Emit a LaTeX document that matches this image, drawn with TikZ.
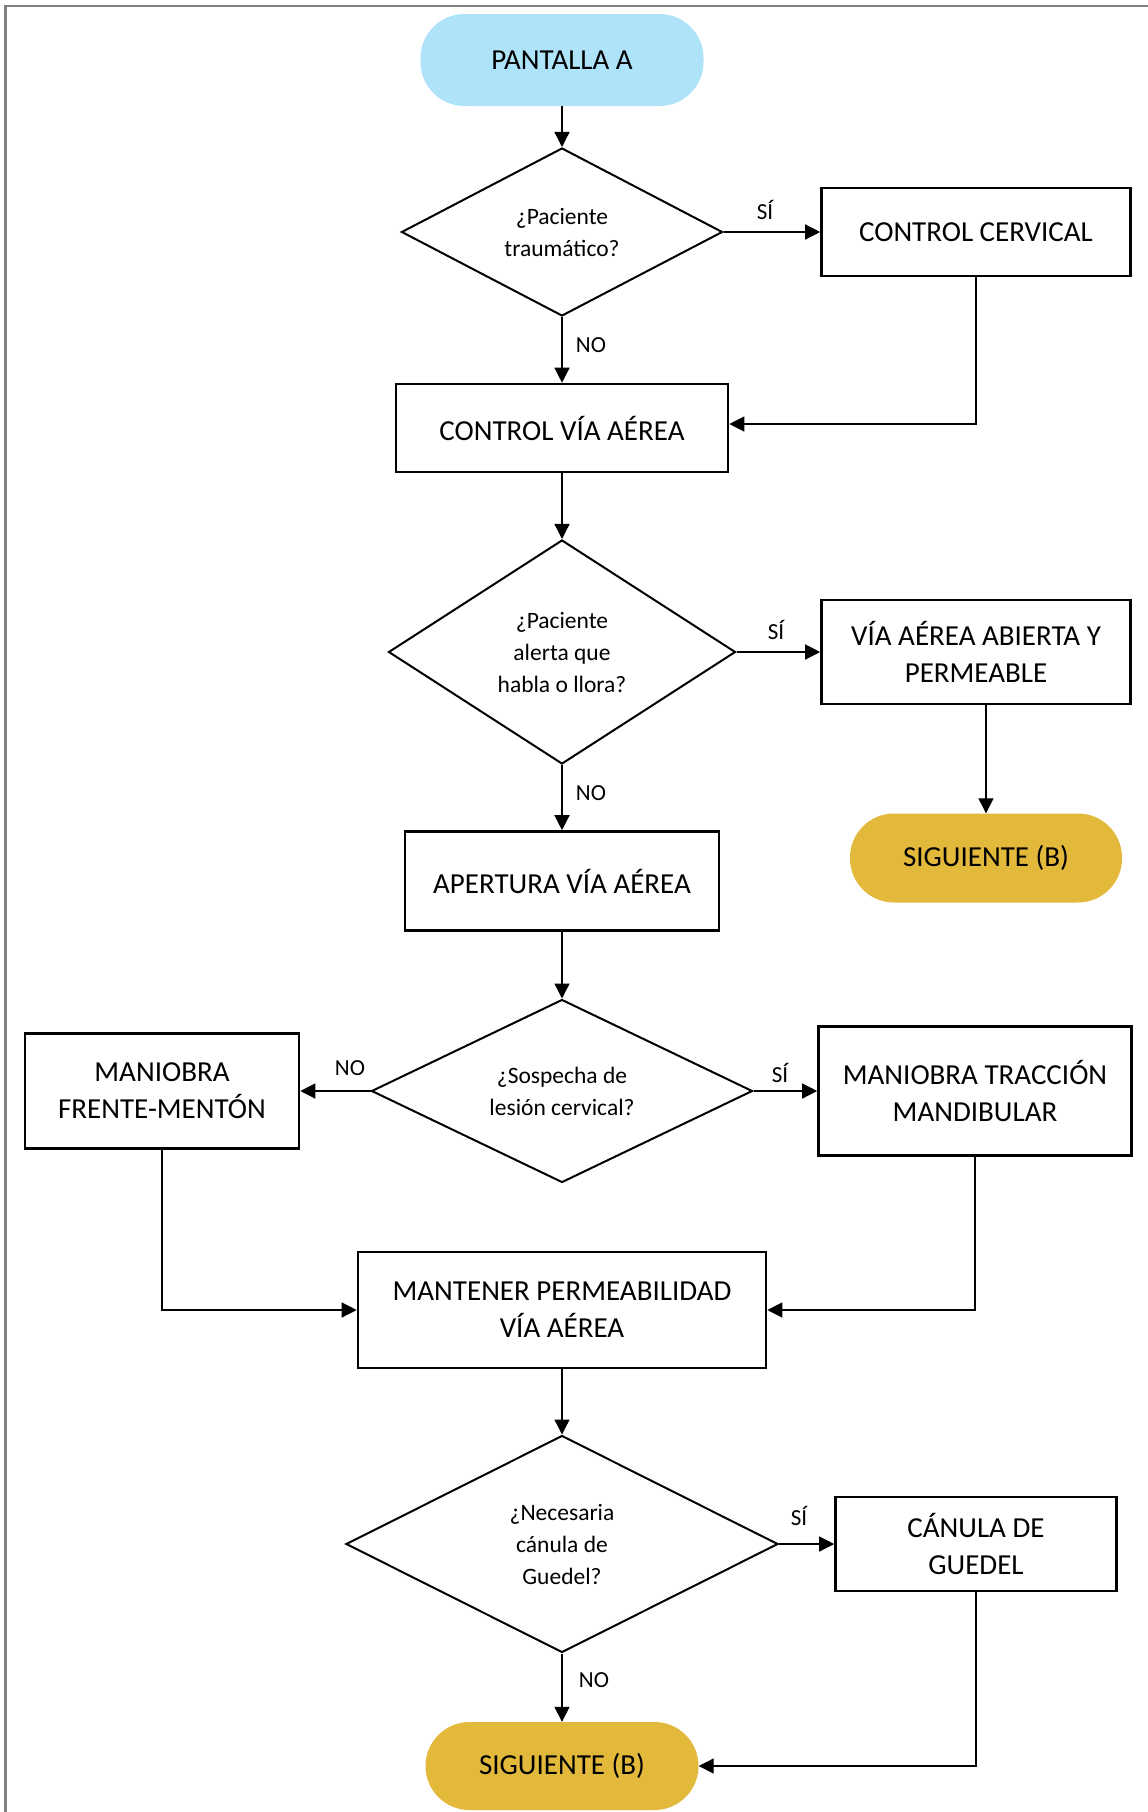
\documentclass[tikz,border=0pt]{standalone}
\usepackage{fontspec}
\setmainfont{Carlito}
\usetikzlibrary{shapes.geometric,arrows.meta,calc}
\definecolor{capblue}{RGB}{174,227,249}
\definecolor{capgold}{RGB}{227,185,59}
\definecolor{framegray}{RGB}{128,128,128}
\tikzset{
  boxnode/.style={draw=black, line width=2.6pt, inner sep=0pt, align=center,
    font=\fontsize{29}{37}\selectfont},
  capsule/.style={draw=none, inner sep=0pt, align=center, rounded corners=44pt,
    font=\fontsize{29}{37}\selectfont},
  decision/.style={diamond, aspect=2, draw=black, line width=2pt, inner sep=0pt, align=center,
    font=\fontsize{23.5}{32}\selectfont},
  conn/.style={draw=black, line width=1.3pt, -{Triangle[length=15pt,width=15pt]}},
  lbl/.style={inner sep=0pt, font=\fontsize{23}{28}\selectfont}
}
\begin{document}
\begin{tikzpicture}[x=1pt,y=-1pt]
\useasboundingbox (0,0) rectangle (1148,1812);
\draw[framegray, line width=2.2pt] (5.5,1812) -- (5.5,6) -- (1148,6);

\node[capsule, fill=capblue, minimum width=283pt, minimum height=92pt] (pa) at (562,60) {PANTALLA A};
\node[decision, minimum width=321pt, minimum height=168pt] (d1) at (562,232) {¿Paciente\\traumático?};
\node[boxnode, minimum width=309pt, minimum height=88pt] (cc) at (976,232) {CONTROL CERVICAL};
\node[boxnode, minimum width=332pt, minimum height=88pt] (cva) at (562,428) {CONTROL VÍA AÉREA};
\node[decision, minimum width=347pt, minimum height=224pt] (d2) at (562,652) {¿Paciente\\alerta que\\habla o llora?};
\node[boxnode, minimum width=309pt, minimum height=104pt] (vaa) at (976,652) {VÍA AÉREA ABIERTA Y\\PERMEABLE};
\node[capsule, fill=capgold, minimum width=272pt, minimum height=89pt] (sig1) at (986,858) {SIGUIENTE (B)};
\node[boxnode, minimum width=314pt, minimum height=99pt] (ap) at (562,881) {APERTURA VÍA AÉREA};
\node[decision, minimum width=381pt, minimum height=183pt] (d3) at (562,1091) {¿Sospecha de\\lesión cervical?};
\node[boxnode, minimum width=274pt, minimum height=115pt] (mfm) at (162,1091) {MANIOBRA\\FRENTE-MENTÓN};
\node[boxnode, minimum width=313pt, minimum height=129pt] (mtm) at (975,1091) {MANIOBRA TRACCIÓN\\MANDIBULAR};
\node[boxnode, minimum width=408pt, minimum height=116pt] (mpv) at (562,1310) {MANTENER PERMEABILIDAD\\VÍA AÉREA};
\node[decision, minimum width=432pt, minimum height=217pt] (d4) at (562,1544) {¿Necesaria\\cánula de\\Guedel?};
\node[boxnode, minimum width=281pt, minimum height=94pt] (cg) at (976,1544) {CÁNULA DE\\GUEDEL};
\node[capsule, fill=capgold, minimum width=273pt, minimum height=88pt] (sig2) at (562,1766) {SIGUIENTE (B)};

\draw[conn] (pa) -- (d1);
\draw[conn] (d1.east) -- (cc.west);
\draw[conn] (d1.south) -- (cva.north);
\draw[conn] (cc.south) |- ($(cva.east)+(0,-4)$);
\draw[conn] (cva) -- (d2);
\draw[conn] (d2.east) -- (vaa.west);
\draw[conn] (vaa.south -| sig1.north) -- (sig1.north);
\draw[conn] (d2.south) -- (ap.north);
\draw[conn] (ap) -- (d3);
\draw[conn] (d3.west) -- (mfm.east);
\draw[conn] (d3.east) -- (mtm.west);
\draw[conn] (mfm.south) |- (mpv.west);
\draw[conn] (mtm.south) |- (mpv.east);
\draw[conn] (mpv) -- (d4);
\draw[conn] (d4.east) -- (cg.west);
\draw[conn] (d4.south) -- (sig2.north);
\draw[conn] (cg.south) |- (sig2.east);

\node[lbl] (l1) at (765,210) {SÍ};
\node[lbl] (l2) at (591,345) {NO};
\node[lbl] (l3) at (776,630) {SÍ};
\node[lbl] (l4) at (591,793) {NO};
\node[lbl] (l5) at (350,1068) {NO};
\node[lbl] (l6) at (780,1073) {SÍ};
\node[lbl] (l7) at (799,1516) {SÍ};
\node[lbl] (l8) at (594,1680) {NO};
\end{tikzpicture}
\end{document}
